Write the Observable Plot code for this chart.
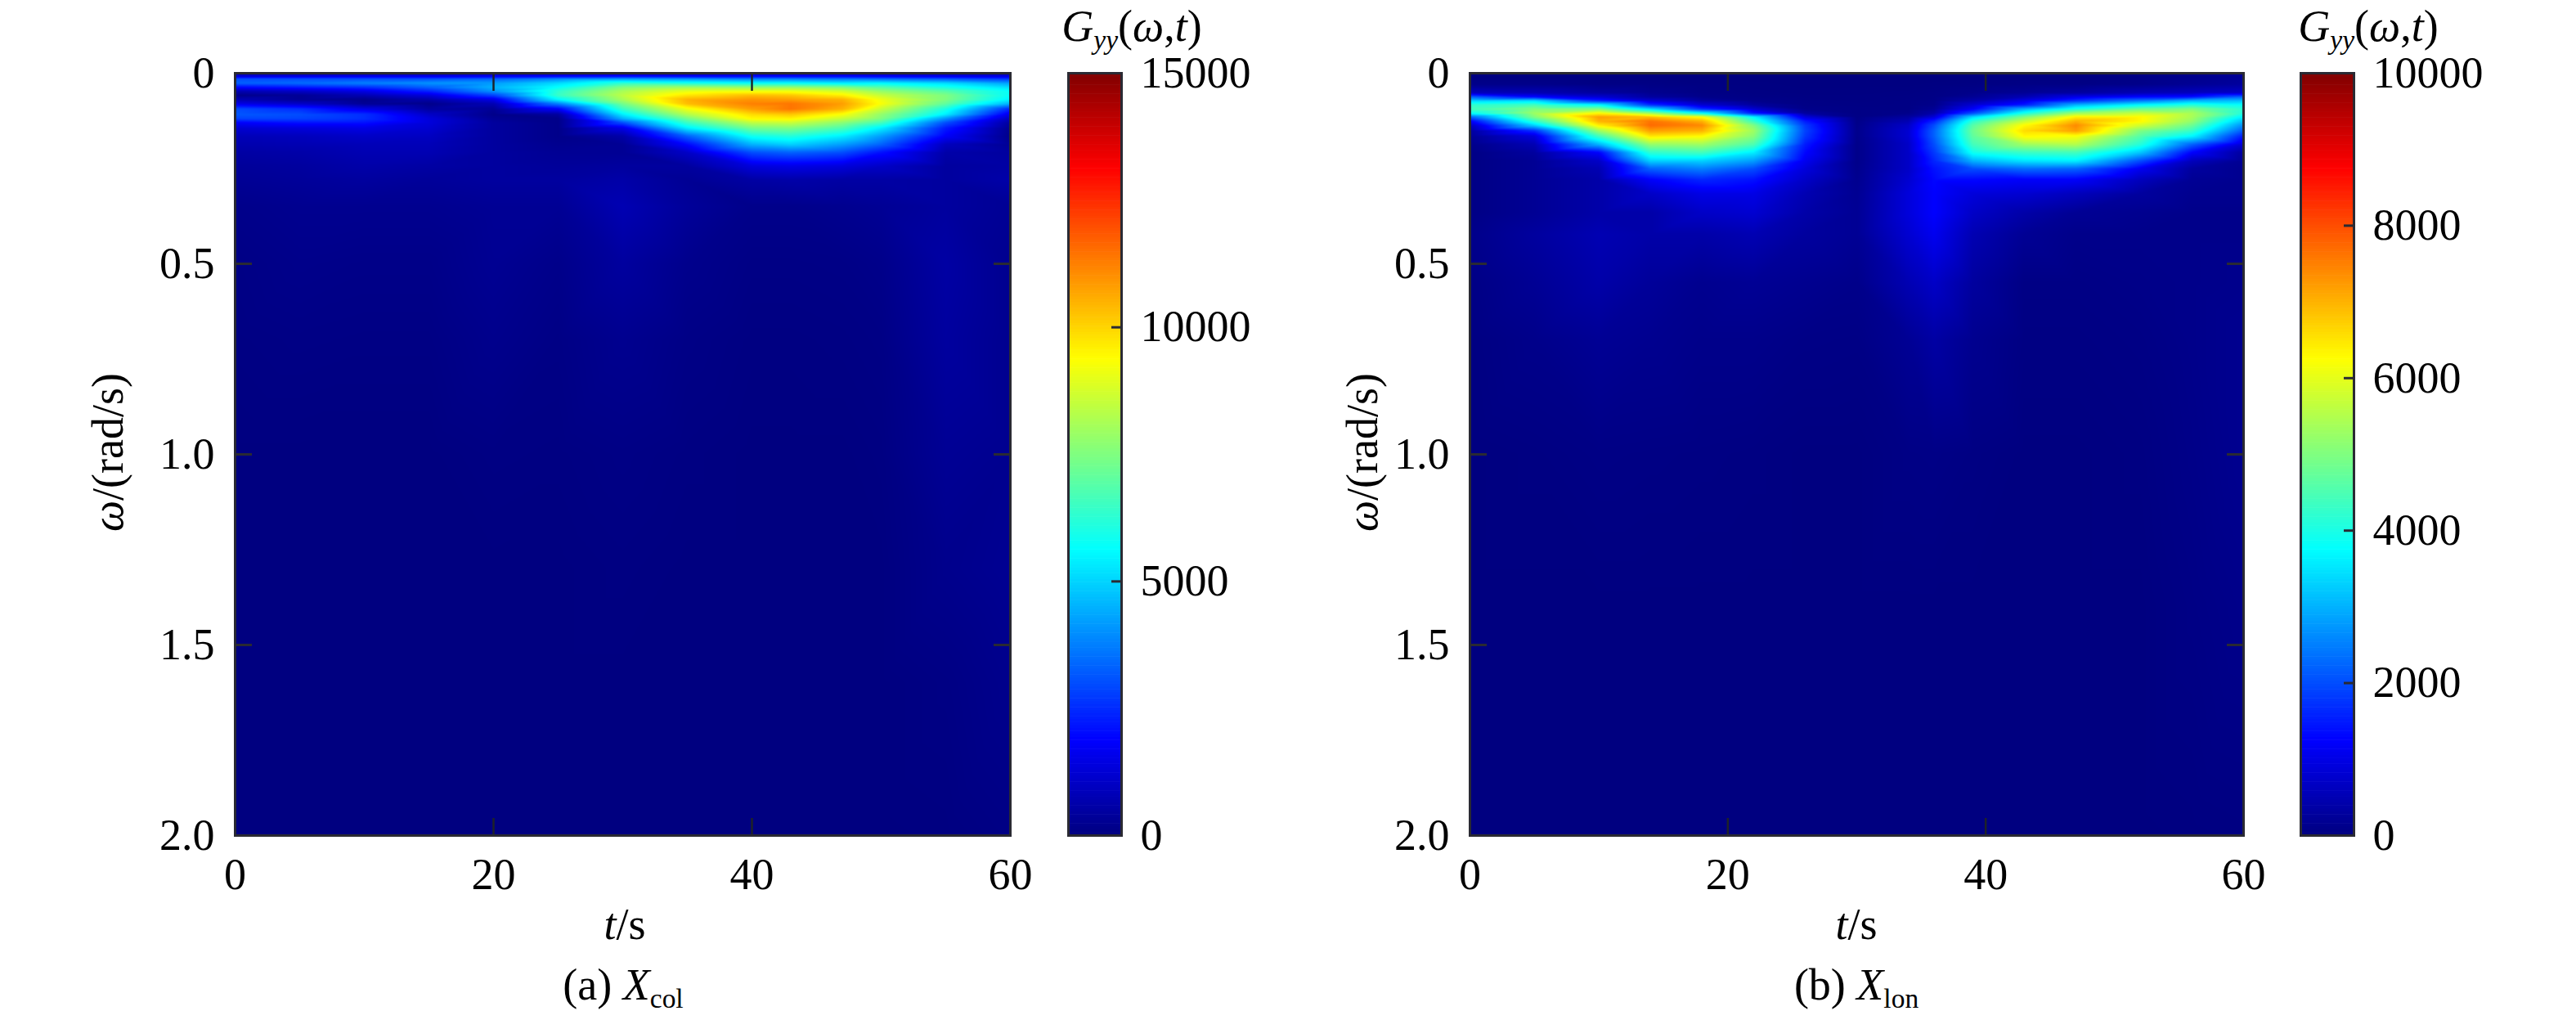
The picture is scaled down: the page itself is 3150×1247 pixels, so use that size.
<!DOCTYPE html>
<html>
<head>
<meta charset="utf-8">
<script src="https://cdn.jsdelivr.net/npm/d3@7"></script>
<script src="https://cdn.jsdelivr.net/npm/@observablehq/plot@0.6"></script>
<style>
html,body{margin:0;padding:0;background:#fff;}
#root{position:relative;width:3150px;height:1247px;overflow:hidden;font-family:"Liberation Serif",serif;font-size:54px;color:#000;}
#root svg{position:absolute;top:0;overflow:visible;background:transparent;}
.lab{position:absolute;white-space:nowrap;line-height:1;transform:translate(-50%,-50%);}
.lab.rot{transform:translate(-50%,-50%) rotate(-90deg);}
.lab sub{font-size:.62em;line-height:0;vertical-align:baseline;position:relative;top:.3em;}
</style>
</head>
<body>
<div id="root"></div>
<script>
const tTicks = [0, 20, 40, 60];
const wTicks = [0, 0.5, 1.0, 1.5, 2.0];
const barTicksA = [0, 5000, 10000, 15000];
const barTicksB = [0, 2000, 4000, 6000, 8000, 10000];
const jetStops = [0, 0.125, 0.375, 0.625, 0.875, 1];
const jetColors = ["#000080", "#0000ff", "#00ffff", "#ffff00", "#ff0000", "#800000"];

// Panel (a) X_col: each row of gyyA is one time column, read down the omega rows
const omegaA = [0,.008,.015,.026,.037,.047,.058,.069,.08,.094,.108,.119,.13,.144,.165,.187,.208,.244,.28,.35,.5,.7,1,1.3,1.6,2];
const timeA = [0,5,10,15,20,25,30,35,40,43,47,50,55,60];
const gyyA = [
[600,1200,3000,3300,1950,750,150,750,1500,3000,3150,2850,1800,1200,825,675,525,375,300,150,75,45,0,0,0,0],
[600,1350,3000,3450,2250,1050,300,300,1050,2550,3000,2850,2100,1350,900,750,600,450,375,225,150,75,0,0,0,0],
[600,1500,3000,3750,2550,1500,750,150,300,1500,2550,2550,2100,1500,1050,825,750,600,450,225,120,60,0,0,0,0],
[600,1500,3000,4050,3300,2400,1350,600,150,450,1050,1350,1350,1200,975,825,750,525,375,225,120,60,0,0,0,0],
[750,1650,3300,4200,4500,4050,2850,1500,750,300,150,300,450,450,450,450,450,450,450,300,270,180,45,0,0,0],
[750,1800,3900,5100,5700,6300,6450,5550,3750,1800,450,150,150,150,150,225,300,375,450,300,150,75,30,0,0,0],
[750,1950,4200,6300,7500,8100,8400,8100,7350,6450,5400,4500,3000,1500,600,300,300,450,600,750,450,225,75,30,0,0],
[750,1800,4050,6000,7950,9000,9750,10500,10350,9150,8250,7350,6450,5400,3300,1950,1050,450,300,375,180,90,30,0,0,0],
[900,1800,3750,5700,7800,9150,10350,10950,11250,10800,9900,9450,8400,7350,5850,4500,3000,1350,525,150,75,30,0,0,0,0],
[900,1800,3750,5700,7800,9150,10200,10800,11400,11400,10200,9525,8550,7500,6150,4950,3300,1500,600,150,75,30,0,0,0,0],
[900,1800,3600,5400,7500,8700,9600,10500,10800,10500,9300,8550,7650,6750,5400,4200,3000,1350,525,225,90,45,0,0,0,0],
[900,1650,3450,5550,6900,7800,8550,9150,9300,8550,7800,7500,6600,5400,4200,3300,2100,1050,525,300,150,75,30,0,0,0],
[750,1500,3150,5100,6000,6900,7500,7500,7050,6000,5400,4050,3000,2250,1800,900,600,450,450,450,525,450,300,180,60,15],
[600,1350,2700,4200,5100,5700,5700,5400,4500,2400,1500,900,450,225,150,300,450,525,600,300,225,225,225,270,180,75]
];

// Panel (b) X_lon
const omegaB = [0,.029,.051,.062,.072,.083,.094,.105,.115,.126,.137,.151,.165,.187,.208,.23,.251,.28,.316,.366,.423,.55,.7,1,1.4,2];
const timeB = [0,5,10,14,18,22,26,30,34,36,39,43,47,52,56,60];
const gyyB = [
[0,100,600,2200,3300,4200,4400,3800,2200,1200,600,300,200,100,50,50,50,50,50,50,100,50,20,0,0,0],
[0,100,500,1300,3400,4400,5000,5300,5000,4200,3300,1700,900,500,300,200,200,200,200,200,300,200,100,20,0,0],
[0,50,300,800,1600,3700,5000,6300,7200,7000,6400,5300,4400,3000,1250,700,500,400,400,400,500,400,200,50,0,0],
[0,50,150,300,800,1700,3400,5300,6900,7600,7700,7200,6500,5200,4200,3300,2200,1200,700,400,400,250,150,40,0,0],
[0,30,50,100,300,800,1700,3800,6200,7000,7400,7000,6300,5300,4400,3300,2500,1600,1000,700,400,150,100,30,0,0],
[0,20,30,50,100,300,800,1500,3700,4300,5000,5300,5100,4500,3600,2800,2000,1400,1000,800,500,200,100,20,0,0],
[0,10,20,30,50,60,100,300,900,1500,1800,1900,1800,1500,1300,1100,900,700,500,400,300,150,60,0,0,0],
[0,10,20,30,30,40,50,50,60,80,100,120,120,100,100,100,120,150,180,200,200,100,50,0,0,0],
[0,10,30,40,50,50,50,100,300,500,700,800,800,700,700,700,700,800,900,900,800,500,200,50,0,0],
[0,20,50,60,80,100,200,400,900,1600,2000,2200,2200,2000,1800,1600,1400,1300,1250,1250,1100,700,350,60,0,0],
[0,30,100,200,400,800,1200,2000,3400,4200,4600,4800,4700,4400,3900,3000,2000,1300,900,700,500,300,150,30,0,0],
[0,50,200,500,1000,1500,3000,4000,5000,5700,6300,6600,6300,5300,4300,3500,2300,1200,800,400,200,50,30,0,0,0],
[0,50,300,1000,1700,3000,4000,5300,6400,7000,7400,7200,6200,5500,4400,3600,2200,1200,600,200,100,50,30,0,0,0],
[50,100,500,1300,2400,3700,4800,5700,6300,6300,5800,5000,4600,4100,3200,2000,1100,600,300,150,100,80,50,20,0,0],
[100,200,600,1400,3000,4100,5000,5400,5400,5200,4800,4300,3700,2200,1250,600,300,200,150,100,100,100,100,80,50,10],
[200,300,700,2200,3100,3800,4200,4100,3600,3100,2600,2100,1500,800,300,200,150,150,150,100,100,120,150,150,100,20]
];

const INK = "#2a2a33";
const root = document.getElementById("root");
const jet = max => ({type:"linear", domain: jetStops.map(f => f * max), range: jetColors, interpolate:"rgb"});
const fontStyle = {fontFamily:'"Liberation Serif",serif', fontSize:"54px", color:"#000"};

function heatmap(left, times, omegas, grid, max) {
  const pts = [];
  times.forEach((t, i) => omegas.forEach((w, j) => pts.push({t, w, g: grid[i][j]})));
  const svg = Plot.plot({
    width: 1290, height: 1130,
    marginLeft: 287, marginRight: left === 0 ? 55 : 57, marginTop: 89, marginBottom: 109,
    style: fontStyle,
    x: {domain:[0,60]},
    y: {domain:[0,2], reverse:true},
    color: jet(max),
    marks: [
      Plot.raster(pts, {x:"t", y:"w", fill:"g", interpolate:"barycentric"}),
      Plot.axisX({anchor:"bottom", ticks:tTicks, tickSize:-21, tickPadding:48, strokeWidth:2.5, stroke:"#1e2228", fontSize:54, label:null, tickFormat:d3.format("d")}),
      Plot.axisX({anchor:"top", ticks:tTicks, tickSize:-21, strokeWidth:2.5, stroke:"#1e2228", label:null, tickFormat:()=>""}),
      Plot.axisY({anchor:"left", ticks:wTicks, tickSize:-21, tickPadding:46, strokeWidth:3, stroke:INK, fontSize:54, label:null, tickFormat:d => d === 0 ? "0" : d.toFixed(1)}),
      Plot.axisY({anchor:"right", ticks:wTicks, tickSize:-21, strokeWidth:3, stroke:INK, label:null, tickFormat:()=>""}),
      Plot.frame({stroke:INK, strokeWidth:3})
    ]
  });
  svg.style.left = left + "px";
  root.appendChild(svg);
}

function colorbar(left, max, ticks) {
  const step = max / 256;
  const bands = d3.range(256).map(i => i * step);
  const svg = Plot.plot({
    width: 250, height: 1130,
    marginLeft: 6, marginRight: 179, marginTop: 89, marginBottom: 109,
    style: fontStyle,
    x: {domain:[0,1], axis:null},
    y: {domain:[0,max]},
    color: jet(max),
    marks: [
      Plot.rect(bands, {x1:()=>0, x2:()=>1, y1:d=>d, y2:d=>d+step, fill:d=>d+step/2, inset:-0.3}),
      Plot.axisY({anchor:"right", ticks, tickSize:-13, tickPadding:36, strokeWidth:3, stroke:INK, fontSize:54, label:null, tickFormat:d3.format("d"), textAnchor:"start"}),
      Plot.frame({stroke:INK, strokeWidth:3})
    ]
  });
  svg.style.left = left + "px";
  root.appendChild(svg);
}

function label(html, x, y, cls) {
  const d = document.createElement("div");
  d.className = "lab " + (cls || "");
  d.style.left = x + "px";
  d.style.top = y + "px";
  d.innerHTML = html;
  root.appendChild(d);
}

heatmap(0, timeA, omegaA, gyyA, 15000);
colorbar(1300, 15000, barTicksA);
heatmap(1510, timeB, omegaB, gyyB, 10000);
colorbar(2807, 10000, barTicksB);

const gyy = "<i>G<sub>yy</sub></i>(<i>ω</i>,<i>t</i>)";
const wl = "<i>ω</i>/(rad/s)";
const tl = "<i>t</i>/s";
label(gyy, 1384, 32);
label(gyy, 2896, 32);
label(wl, 132, 553, "rot");
label(wl, 1666, 553, "rot");
label(tl, 764, 1130);
label(tl, 2270, 1130);
label("(a) <i>X</i><sub>col</sub>", 762, 1204);
label("(b) <i>X</i><sub>lon</sub>", 2270, 1204);
</script>
</body>
</html>
